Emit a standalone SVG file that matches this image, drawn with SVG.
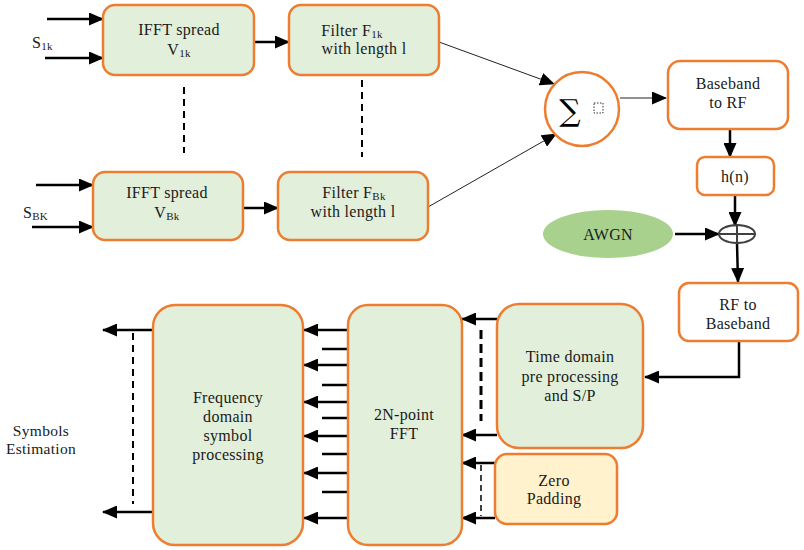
<svg xmlns="http://www.w3.org/2000/svg" width="804" height="550" viewBox="0 0 804 550">
<defs>
<style>
.box{fill:#E2EFDA;stroke:#ED7D31;stroke-width:2.5}
.wbox{fill:#FFFFFF;stroke:#ED7D31;stroke-width:2.5}
.ybox{fill:#FFF2CC;stroke:#ED7D31;stroke-width:2.5}
.t{font-family:'Liberation Serif','DejaVu Serif',serif;font-size:16px;fill:#1a1a1a;text-anchor:middle;letter-spacing:0.3px}
.sub{font-size:11px}
.a{stroke:#000;stroke-width:2.5;fill:none;marker-end:url(#ah)}
.thin{stroke:#222;stroke-width:1;fill:none;marker-end:url(#ah2)}
.l{stroke:#000;stroke-width:2.5;fill:none}
.d{stroke:#000;stroke-width:2;fill:none;stroke-dasharray:7 5}
.dt{stroke:#000;stroke-width:3;fill:none;stroke-dasharray:9 5}
.ds{stroke:#000;stroke-width:1.5;fill:none;stroke-dasharray:6 4}
</style>
<marker id="ah" markerUnits="userSpaceOnUse" markerWidth="15" markerHeight="13" refX="14" refY="6.5" orient="auto">
<path d="M0,0 L15,6.5 L0,13 Z" fill="#000"/>
</marker>
<marker id="ah2" markerUnits="userSpaceOnUse" markerWidth="15" markerHeight="13" refX="14" refY="6.5" orient="auto">
<path d="M0,0 L15,6.5 L0,13 Z" fill="#000"/>
</marker>
</defs>
<rect width="804" height="550" fill="#FFFFFF"/>

<g id="connectors">
<line class="a" x1="47" y1="19" x2="103" y2="19"/>
<line class="a" x1="45" y1="58" x2="103" y2="58"/>
<line class="a" x1="254" y1="42" x2="289" y2="42"/>
<line class="a" x1="36" y1="185" x2="93" y2="185"/>
<line class="a" x1="32" y1="227" x2="93" y2="227"/>
<line class="a" x1="243" y1="208" x2="278" y2="208"/>
<line class="d" x1="184" y1="87" x2="184" y2="153"/>
<line class="d" x1="362" y1="80" x2="362" y2="157"/>
<line class="thin" x1="439" y1="42" x2="554" y2="84"/>
<line class="thin" x1="428" y1="207" x2="556" y2="134"/>
<line class="thin" x1="620" y1="98" x2="666" y2="98"/>
<line class="a" x1="730" y1="129" x2="730" y2="157"/>
<line class="a" x1="735" y1="195" x2="735" y2="226"/>
<line class="a" x1="675" y1="234" x2="719" y2="234"/>
<line class="a" x1="737" y1="243" x2="738" y2="282"/>
<polyline class="a" points="739,341 739,377 645,377"/>
<line class="a" x1="497" y1="319" x2="462" y2="319"/>
<line class="a" x1="497" y1="435" x2="462" y2="435"/>
<line class="dt" x1="481" y1="330" x2="481" y2="421"/>
<line class="a" x1="495" y1="463" x2="462" y2="463"/>
<line class="a" x1="495" y1="518" x2="462" y2="518"/>
<line class="ds" x1="481" y1="465" x2="481" y2="516"/>
<line class="a" x1="348" y1="330" x2="304" y2="330"/>
<line class="a" x1="348" y1="365" x2="304" y2="365"/>
<line class="a" x1="348" y1="402" x2="304" y2="402"/>
<line class="a" x1="348" y1="436" x2="304" y2="436"/>
<line class="a" x1="348" y1="473" x2="304" y2="473"/>
<line class="a" x1="348" y1="518" x2="304" y2="518"/>
<line class="l" x1="322" y1="349" x2="348" y2="349"/>
<line class="l" x1="322" y1="385" x2="348" y2="385"/>
<line class="l" x1="322" y1="418" x2="348" y2="418"/>
<line class="l" x1="322" y1="454" x2="348" y2="454"/>
<line class="l" x1="322" y1="492" x2="348" y2="492"/>
<line class="a" x1="153" y1="330" x2="103" y2="330"/>
<line class="a" x1="153" y1="512" x2="103" y2="512"/>
<line class="d" x1="133" y1="333" x2="133" y2="504"/>
</g>

<g id="s1k"><text class="t" x="32" y="48" style="text-anchor:start">S<tspan class="sub" dy="2">1k</tspan></text></g>
<g id="sbk"><text class="t" x="23" y="218" style="text-anchor:start">S<tspan class="sub" dy="2">BK</tspan></text></g>

<g id="ifft1"><rect class="box" x="103" y="5" width="151" height="70" rx="12"/>
<text class="t" x="179" y="35">IFFT spread</text><text class="t" x="179" y="55">V<tspan class="sub" dy="2">1k</tspan></text></g>
<g id="filter1"><rect class="box" x="289" y="5" width="150" height="70" rx="12"/>
<text class="t" x="352" y="36">Filter F<tspan class="sub" dy="2">1k</tspan></text><text class="t" x="364" y="54">with length l</text></g>
<g id="ifftb"><rect class="box" x="93" y="172" width="150" height="68" rx="12"/>
<text class="t" x="167" y="198">IFFT spread</text><text class="t" x="167" y="218">V<tspan class="sub" dy="2">Bk</tspan></text></g>
<g id="filterb"><rect class="box" x="278" y="172" width="150" height="68" rx="12"/>
<text class="t" x="354" y="198">Filter F<tspan class="sub" dy="2">Bk</tspan></text><text class="t" x="353" y="217">with length l</text></g>

<g id="sum"><circle cx="582" cy="109" r="37" fill="#FFFFFF" stroke="#ED7D31" stroke-width="2.5"/>
<text x="570" y="121" style="font-family:'DejaVu Serif','Liberation Serif',serif;font-size:30px;text-anchor:middle;fill:#000">∑</text>
<rect x="594" y="103" width="9" height="10" fill="none" stroke="#333" stroke-width="1" stroke-dasharray="1.5 1.5"/></g>

<g id="b2rf"><rect class="wbox" x="668" y="61" width="120" height="68" rx="12"/>
<text class="t" x="728" y="89">Baseband</text><text class="t" x="728" y="108">to RF</text></g>
<g id="hn"><rect class="wbox" x="697" y="157" width="77" height="38" rx="8"/>
<text class="t" x="735" y="182">h(n)</text></g>
<g id="awgn"><ellipse cx="608" cy="234" rx="65" ry="24" fill="#A9D18E"/>
<text class="t" x="608" y="240">AWGN</text></g>
<g id="adder"><ellipse cx="737" cy="234" rx="18" ry="9" fill="none" stroke="#404040" stroke-width="2"/>
<line x1="719" y1="234" x2="755" y2="234" stroke="#404040" stroke-width="2"/>
<line x1="737" y1="225" x2="737" y2="243" stroke="#404040" stroke-width="2"/></g>
<g id="rf2b"><rect class="wbox" x="679" y="283" width="119" height="58" rx="10"/>
<text class="t" x="738" y="310">RF to</text><text class="t" x="738" y="329">Baseband</text></g>

<g id="timedomain"><rect class="box" x="497" y="304" width="146" height="144" rx="22"/>
<text class="t" x="570" y="362">Time domain</text><text class="t" x="570" y="382">pre processing</text><text class="t" x="570" y="401">and S/P</text></g>
<g id="zeropad"><rect class="ybox" x="495" y="454" width="122" height="70" rx="12"/>
<text class="t" x="554" y="486">Zero</text><text class="t" x="554" y="504">Padding</text></g>
<g id="fft"><rect class="box" x="348" y="305" width="114" height="240" rx="20"/>
<text class="t" x="404" y="420">2N-point</text><text class="t" x="404" y="439">FFT</text></g>
<g id="freqproc"><rect class="box" x="153" y="305" width="150" height="240" rx="22"/>
<text class="t" x="228" y="403">Frequency</text><text class="t" x="228" y="422">domain</text><text class="t" x="228" y="441">symbol</text><text class="t" x="228" y="460">processing</text></g>
<g id="symbols"><text class="t" x="41" y="436" style="font-size:15.5px">Symbols</text><text class="t" x="41" y="454" style="font-size:15.5px">Estimation</text></g>
</svg>
